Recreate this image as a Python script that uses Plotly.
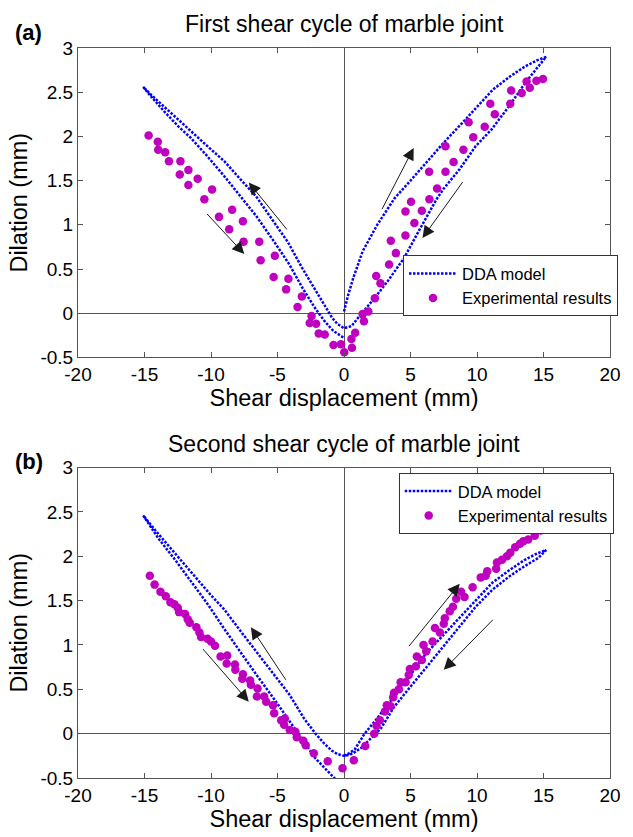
import plotly.graph_objects as go

# ---------------- Panel (a): first shear cycle ----------------
a_dda_x = [0, 0.3, 0.7, 1.4, 2.5, 3.8, 5.0, 6.2, 7.5, 9.0, 10.0, 11.2, 12.5, 13.6, 14.5, 15.2,
           14.6, 13.6, 12.4, 11.1, 9.9, 8.7, 7.5, 6.96, 5.73, 4.5, 3.27, 2.29, 1.28, 0.57, 0,
           -0.5, -0.9, -1.9, -3.1, -4.2, -5.5, -6.6, -8.0, -9.0, -10.2, -11.3, -12.5, -13.5, -14.5, -15.1,
           -14.5, -13.5, -12.5, -11.5, -10.3, -9.0, -7.8, -6.6, -5.3, -4.1, -3.1, -2.1, -1.4, -0.8, 0]
a_dda_y = [0.02, 0.2, 0.4, 0.7, 1.0, 1.3, 1.5, 1.71, 1.93, 2.17, 2.33, 2.53, 2.68, 2.79, 2.86, 2.9,
           2.79, 2.6, 2.34, 2.08, 1.89, 1.63, 1.41, 1.29, 0.96, 0.62, 0.36, 0.17, -0.01, -0.145, -0.17,
           -0.12, -0.05, 0.2, 0.5, 0.8, 1.08, 1.32, 1.55, 1.72, 1.88, 2.03, 2.2, 2.33, 2.47, 2.56,
           2.45, 2.28, 2.12, 1.98, 1.78, 1.55, 1.33, 1.1, 0.82, 0.55, 0.28, 0.04, -0.1, -0.2, -0.28]

a_exp_x = [-14.69, -14.0, -13.97, -13.45, -13.16, -12.3, -12.35, -11.7, -11.7, -11.0, -9.92, -10.5,
           -8.41, -9.4, -7.6, -8.63, -7.55, -6.37, -6.27, -5.2, -5.29, -4.18, -4.35, -3.17, -3.49,
           -2.44, -2.58, -2.1, -1.9, -1.45, -0.79, -0.23, 0.02,
           0.56, 0.6, 0.84, 1.5, 1.4, 1.83, 2.32, 2.42, 2.74, 3.39, 3.9, 3.52, 4.62, 5.29, 4.62,
           5.85, 5.04, 6.42, 7.0, 6.4, 7.63, 7.63, 8.24, 8.98, 9.37, 9.72, 10.58, 11.0, 11.34,
           12.5, 12.57, 13.36, 13.73, 13.97, 14.47, 14.96]
a_exp_y = [2.01, 1.94, 1.85, 1.82, 1.72, 1.72, 1.57, 1.62, 1.45, 1.52, 1.40, 1.29,
           1.17, 1.09, 1.04, 0.95, 0.81, 0.81, 0.60, 0.65, 0.41, 0.39, 0.27, 0.19, 0.07,
           -0.03, -0.11, -0.12, -0.23, -0.24, -0.36, -0.35, -0.44,
           -0.29, -0.39, -0.22, -0.09, -0.01, 0.02, 0.17, 0.42, 0.34, 0.55, 0.68, 0.82, 0.88, 1.02, 1.15,
           1.16, 1.26, 1.29, 1.41, 1.6, 1.60, 1.89, 1.71, 1.85, 2.16, 1.99, 2.11, 2.37, 2.25,
           2.37, 2.52, 2.49, 2.62, 2.55, 2.63, 2.65]

a_arrow_tail_x = [2.8, 9.0, -4.2, -10.4]
a_arrow_tail_y = [1.16, 1.50, 0.93, 1.14]
a_arrow_head_x = [5.24, 5.9, -7.16, -7.5]
a_arrow_head_y = [1.87, 0.85, 1.48, 0.67]

# ---------------- Panel (b): second shear cycle ----------------
b_dda_x = [0, 0.4, 0.8, 1.55, 2.53, 3.76, 5.0, 6.15, 7.4, 8.7, 10.0, 11.14, 12.4, 13.6, 14.5, 15.2,
           14.6, 13.6, 12.4, 11.14, 9.9, 8.67, 7.4, 6.15, 5.0, 3.76, 2.78, 2.0, 1.3, 0.8, 0.4, 0,
           -0.5, -0.93, -1.5, -2.14, -3.0, -4.1, -5.3, -6.57, -8.0, -9.0, -10.0, -11.5, -12.7, -13.95, -15.1,
           -14.5, -13.95, -12.7, -11.5, -10.2, -9.0, -7.8, -6.57, -5.3, -4.1, -3.1, -2.14, -1.5, -0.93, -0.6]
b_dda_y = [-0.25, -0.22, -0.18, 0.0, 0.18, 0.42, 0.66, 0.9, 1.1, 1.32, 1.52, 1.7, 1.84, 1.96, 2.03, 2.07,
           1.98, 1.89, 1.77, 1.62, 1.43, 1.2, 0.97, 0.74, 0.53, 0.3, 0.06, -0.06, -0.16, -0.21, -0.24, -0.25,
           -0.23, -0.19, -0.11, 0.0, 0.17, 0.44, 0.68, 0.92, 1.2, 1.4, 1.56, 1.82, 2.03, 2.25, 2.46,
           2.33, 2.2, 1.96, 1.72, 1.45, 1.18, 0.92, 0.66, 0.4, 0.14, -0.08, -0.28, -0.38, -0.47, -0.52]

b_exp_x = [-14.6, -14.24, -13.8, -13.4, -13.05, -12.75, -12.5, -12.4, -11.95, -11.75, -11.6, -11.1,
           -10.87, -10.75, -10.26, -10.0, -9.7, -9.28, -8.78, -8.82, -8.2, -8.17, -7.6, -7.65, -7.06,
           -7.0, -6.5, -6.55, -6.0, -5.85, -5.34, -5.25, -4.72, -4.45, -4.5, -4.08, -3.65, -3.55,
           -3.06, -2.88, -2.27, -1.22, -0.11,
           0.74, 1.6, 2.27, 2.45, 2.7, 3.08, 3.22, 3.5, 3.7, 3.76, 4.13, 4.26, 4.63, 4.87, 4.95,
           5.41, 5.48, 5.85, 5.98, 6.18, 6.66, 6.84, 7.21, 7.5, 7.58, 7.95, 8.19, 8.44, 8.8, 9.06,
           9.67, 10.28, 10.65, 10.77, 11.44, 11.5, 11.88, 12.25, 12.5, 12.87, 13.23, 13.48, 13.85,
           14.34, 14.78]
b_exp_y = [1.78, 1.68, 1.6, 1.55, 1.48, 1.46, 1.42, 1.37, 1.35, 1.29, 1.25, 1.2,
           1.14, 1.09, 1.07, 1.04, 0.99, 0.87, 0.88, 0.79, 0.78, 0.72, 0.67, 0.62, 0.6,
           0.55, 0.51, 0.42, 0.42, 0.36, 0.32, 0.23, 0.15, 0.17, 0.1, 0.04, 0.02, -0.04,
           -0.08, -0.13, -0.22, -0.31, -0.39,
           -0.30, -0.14, 0.0, 0.09, 0.15, 0.25, 0.32, 0.31, 0.41, 0.46, 0.5, 0.58, 0.58, 0.66, 0.73,
           0.76, 0.87, 0.83, 1.0, 0.93, 1.04, 1.19, 1.14, 1.24, 1.30, 1.38, 1.43, 1.52, 1.6, 1.54,
           1.65, 1.76, 1.78, 1.83, 1.86, 1.93, 1.96, 2.0, 2.04, 2.1, 2.14, 2.17, 2.19,
           2.23, 2.29]

b_arrow_tail_x = [-10.7, -4.3, 4.8, 11.3]
b_arrow_tail_y = [0.97, 0.59, 0.97, 1.30]
b_arrow_head_x = [-7.16, -7.0, 8.7, 7.5]
b_arrow_head_y = [0.36, 1.20, 1.69, 0.72]

# ---------------- Axis ticks / labels ----------------
x_tickvals = [-20, -15, -10, -5, 0, 5, 10, 15, 20]
x_ticktext = ['-20', '-15', '-10', '-5', '0', '5', '10', '15', '20']
y_tickvals = [-0.5, 0, 0.5, 1, 1.5, 2, 2.5, 3]
y_ticktext = ['-0.5', '0', '0.5', '1', '1.5', '2', '2.5', '3']

titles = ['First shear cycle of marble joint', 'Second shear cycle of marble joint']
panel_tags = ['(a)', '(b)']
x_title = 'Shear displacement (mm)'
y_title = 'Dilation (mm)'
legend_names = ['DDA model', 'Experimental results']

FONT = 'Liberation Sans, Arial, sans-serif'
BLUE = '#0000FF'
MAG = '#BF00BF'
AXC = '#555555'

fig = go.Figure()

panels = [
    (a_dda_x, a_dda_y, a_exp_x, a_exp_y, 'x', 'y', 'legend'),
    (b_dda_x, b_dda_y, b_exp_x, b_exp_y, 'x2', 'y2', 'legend2'),
]
for dx, dy, ex, ey, xa, ya, lg in panels:
    fig.add_trace(go.Scatter(x=dx, y=dy, mode='lines', name=legend_names[0],
                             line=dict(color=BLUE, width=2.5, dash='2.5px,1.5px'),
                             xaxis=xa, yaxis=ya, legend=lg))
    fig.add_trace(go.Scatter(x=ex, y=ey, mode='markers', name=legend_names[1],
                             marker=dict(color=MAG, size=8.5, line=dict(width=0)),
                             xaxis=xa, yaxis=ya, legend=lg))

def xaxis_style(anchor):
    return dict(domain=[0, 1], anchor=anchor, range=[-20, 20],
                tickvals=x_tickvals, ticktext=x_ticktext,
                ticks='inside', ticklen=5, tickcolor=AXC, mirror='ticks',
                showline=True, linecolor=AXC, linewidth=1,
                zeroline=True, zerolinecolor=AXC, zerolinewidth=1,
                showgrid=False, tickfont=dict(size=19, color='black', family=FONT),
                title=dict(text=x_title, font=dict(size=23.5, color='black', family=FONT), standoff=3))

def yaxis_style(anchor, domain):
    return dict(domain=domain, anchor=anchor, range=[-0.5, 3],
                tickvals=y_tickvals, ticktext=y_ticktext,
                ticks='inside', ticklen=5, tickcolor=AXC, mirror='ticks',
                showline=True, linecolor=AXC, linewidth=1,
                zeroline=True, zerolinecolor=AXC, zerolinewidth=1,
                showgrid=False, tickfont=dict(size=19, color='black', family=FONT),
                title=dict(text=y_title, font=dict(size=23.5, color='black', family=FONT), standoff=6))

annotations = []
title_y = [1.033, 0.457]
tag_y = [1.021, 0.4334]
for i in range(2):
    annotations.append(dict(text=titles[i], xref='paper', yref='paper', x=0.5, y=title_y[i],
                            xanchor='center', yanchor='middle', showarrow=False,
                            font=dict(size=23, color='black', family=FONT)))
    annotations.append(dict(text='<b>' + panel_tags[i] + '</b>', xref='paper', yref='paper',
                            x=-0.1218, y=tag_y[i], xanchor='left', yanchor='middle', showarrow=False,
                            font=dict(size=22, color='black', family=FONT)))

arrow_sets = [
    (a_arrow_tail_x, a_arrow_tail_y, a_arrow_head_x, a_arrow_head_y, 'x', 'y'),
    (b_arrow_tail_x, b_arrow_tail_y, b_arrow_head_x, b_arrow_head_y, 'x2', 'y2'),
]
for tx, ty, hx, hy, xr, yr in arrow_sets:
    for i in range(len(tx)):
        annotations.append(dict(x=hx[i], y=hy[i], ax=tx[i], ay=ty[i], xref=xr, yref=yr,
                                axref=xr, ayref=yr, text='', showarrow=True,
                                arrowhead=2, arrowsize=2.4, arrowwidth=1, arrowcolor='#1a1a1a'))

legend_common = dict(font=dict(size=16.5, color='black', family=FONT),
                     bgcolor='white', bordercolor='#333333', borderwidth=1,
                     xanchor='right', yanchor='top', tracegroupgap=0,
                     itemwidth=48, itemclick=False)

fig.update_layout(
    width=633, height=837,
    margin=dict(l=78, r=13, t=48, b=53),
    paper_bgcolor='white', plot_bgcolor='white',
    font=dict(family=FONT, color='black'),
    xaxis=xaxis_style('y'),
    yaxis=yaxis_style('x', [0.5761, 1]),
    xaxis2=xaxis_style('y2'),
    yaxis2=yaxis_style('x2', [0, 0.4253]),
    legend=dict(x=1.015, y=0.716, **legend_common),
    legend2=dict(x=1.007, y=0.418, **legend_common),
    annotations=annotations,
    showlegend=True,
)

fig.write_html('out.html')
